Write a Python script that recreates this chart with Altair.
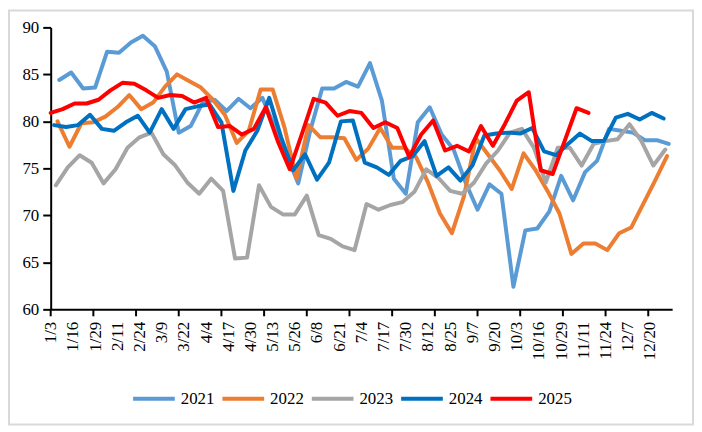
import altair as alt
import pandas as pd

years = ["2021", "2022", "2023", "2024", "2025"]
colors = ["#5B9BD5", "#ED7D31", "#A5A5A5", "#0070C0", "#FF0000"]
# offset (days from 1/3) of each year's first weekly observation (Fridays)
start_day = {"2021": 5, "2022": 4, "2023": 3, "2024": 2, "2025": 0}

v2021 = [84.4, 85.2, 83.5, 83.6, 87.4, 87.3, 88.4, 89.1, 88.0, 85.3, 78.8, 79.5,
         82.0, 82.3, 81.1, 82.4, 81.4, 82.5, 79.5, 76.5, 73.4, 79.0, 83.5, 83.5,
         84.2, 83.7, 86.2, 82.2, 73.9, 72.3, 79.9, 81.5, 78.6, 77.0, 73.5, 70.6,
         73.3, 72.3, 62.4, 68.4, 68.6, 70.4, 74.2, 71.6, 74.6, 75.8, 79.2, 79.0,
         78.8, 78.0, 78.0, 77.6]
v2022 = [80.0, 77.3, 79.8, 79.9, 80.5, 81.5, 82.8, 81.3, 82.0, 83.7, 85.0, 84.3,
         83.6, 82.3, 80.7, 77.7, 79.0, 83.4, 83.4, 79.3, 73.9, 79.6, 78.3, 78.3,
         78.2, 75.9, 77.1, 79.3, 77.2, 77.2, 76.2, 73.5, 70.2, 68.1, 72.0, 78.2,
         76.5, 74.8, 72.8, 76.6, 74.8, 72.6, 70.2, 65.9, 67.0, 67.0, 66.3, 68.1,
         68.7, 71.2, 73.7, 76.3]
v2023 = [73.2, 75.1, 76.4, 75.6, 73.4, 74.9, 77.2, 78.3, 78.8, 76.5, 75.3, 73.5,
         72.3, 73.9, 72.6, 65.4, 65.5, 73.2, 70.9, 70.1, 70.1, 72.1, 67.9, 67.5,
         66.7, 66.3, 71.2, 70.6, 71.1, 71.4, 72.5, 74.9, 74.0, 72.6, 72.3, 73.5,
         75.5, 76.9, 78.8, 79.2, 77.2, 73.5, 77.2, 77.2, 75.3, 77.6, 77.9, 78.1,
         79.7, 77.9, 75.3, 77.0]
v2024 = [79.6, 79.4, 79.6, 80.7, 79.2, 79.0, 79.9, 80.6, 78.8, 81.3, 79.2, 81.3,
         81.6, 81.8, 79.9, 72.6, 76.9, 79.0, 82.5, 78.3, 74.8, 76.5, 73.8, 75.6,
         80.0, 80.1, 75.6, 75.1, 74.3, 75.8, 76.3, 77.9, 74.2, 75.1, 73.7, 75.3,
         78.5, 78.7, 78.8, 78.7, 79.3, 76.8, 76.4, 77.6, 78.7, 77.9, 77.9, 80.4,
         80.8, 80.2, 80.9, 80.3]
v2025 = [80.9, 81.3, 81.9, 81.9, 82.3, 83.3, 84.1, 84.0, 83.3, 82.5, 82.8, 82.7,
         82.0, 82.5, 79.4, 79.5, 78.6, 79.2, 81.5, 77.9, 74.9, 78.6, 82.4, 82.0,
         80.6, 81.1, 80.9, 79.3, 79.9, 79.3, 76.2, 78.6, 80.1, 76.9, 77.4, 76.8,
         79.5, 77.4, 79.7, 82.2, 83.1, 74.8, 74.4, 77.9, 81.4, 80.9]

series = {"2021": v2021, "2022": v2022, "2023": v2023, "2024": v2024, "2025": v2025}

label_days = list(range(0, 352, 13))   # 1/3, 1/16, ... 12/20
tick_days = list(range(0, 351, 25))
y_ticks = [60, 65, 70, 75, 80, 85, 90]

rows = []
for y in years:
    for k, v in enumerate(series[y]):
        rows.append({"year": y, "day": start_day[y] + 7 * k, "value": v})
df = pd.DataFrame(rows)
ticks_df = pd.DataFrame({"day": tick_days, "top": [60.0] * len(tick_days),
                         "bottom": [59.26] * len(tick_days)})

FONT = "Liberation Serif"

xscale = alt.Scale(domain=[0, 364], nice=False, zero=False)
yscale = alt.Scale(domain=[60, 90], nice=False, zero=False)
yaxis = alt.Axis(values=y_ticks, grid=False, tickSize=8, tickWidth=2, tickColor="black",
                 domainColor="black", domainWidth=2, labelPadding=4, title=None,
                 labelFont=FONT, labelFontSize=17, labelColor="black")

lines = alt.Chart(df).mark_line(strokeWidth=4, strokeJoin="round", strokeCap="round").encode(
    x=alt.X("day:Q", scale=xscale,
            axis=alt.Axis(orient="bottom", values=label_days, labelOverlap=False,
                          labelExpr="timeFormat(datetime(2025, 0, 3 + datum.value), '%-m/%-d')",
                          labelAngle=270, ticks=False, tickSize=0, labelPadding=12, grid=False,
                          domainColor="black", domainWidth=2, title=None,
                          labelFont=FONT, labelFontSize=17, labelColor="black")),
    y=alt.Y("value:Q", scale=yscale, axis=yaxis),
    color=alt.Color("year:N", scale=alt.Scale(domain=years, range=colors),
                    legend=alt.Legend(orient="none", legendX=81, legendY=351,
                                      direction="horizontal", title=None,
                                      symbolType="stroke", symbolSize=1764,
                                      symbolStrokeWidth=4, labelFont=FONT,
                                      labelFontSize=17, labelColor="black",
                                      labelOffset=4, columnPadding=0, padding=0)),
    order=alt.Order("day:Q"),
)

# x-axis tick marks (every 25 days, independent of the labels)
tick_marks = alt.Chart(ticks_df).mark_rule(color="black", strokeWidth=2).encode(
    x=alt.X("day:Q", scale=xscale, axis=None),
    y=alt.Y("top:Q", scale=yscale, axis=yaxis),
    y2=alt.Y2("bottom:Q"),
)

frame = alt.Chart(alt.Data(values=[{"a": 1}])).mark_rect(
    fillOpacity=0, stroke="#d9d9d9", strokeWidth=2
).encode(x=alt.value(-42), x2=alt.value(647), y=alt.value(-17), y2=alt.value(400))

chart = alt.layer(frame, lines, tick_marks).resolve_axis(x="independent").properties(
    width=626, height=284, padding=0, background="white"
).configure_view(stroke=None)

chart.save("out.html", embed_options={"renderer": "svg", "actions": False})
